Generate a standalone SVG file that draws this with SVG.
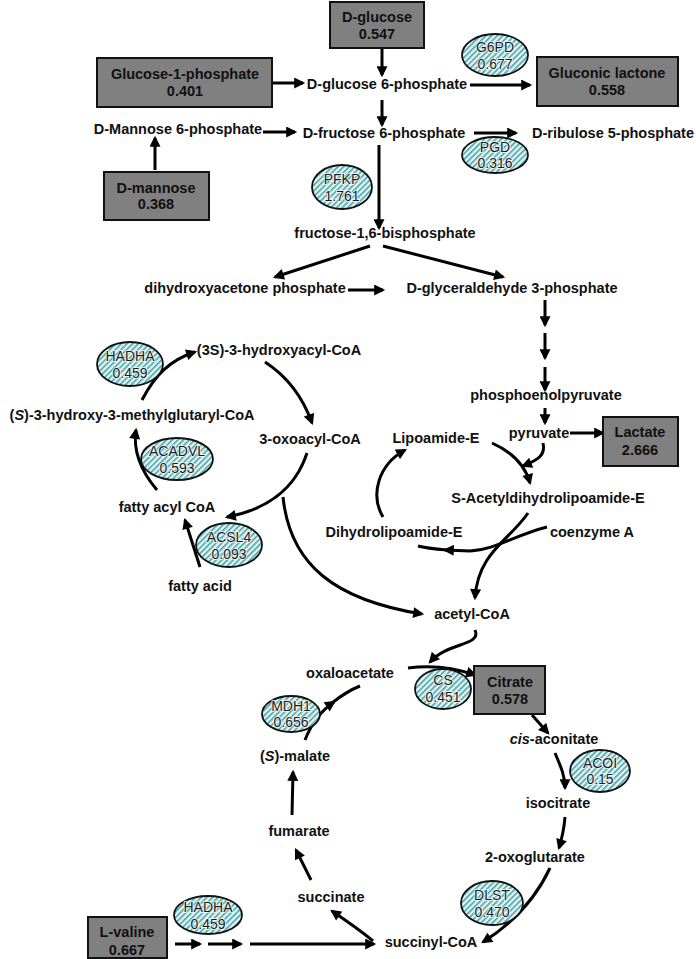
<svg xmlns="http://www.w3.org/2000/svg" width="696" height="959" viewBox="0 0 696 959">
<style>
text{font-family:"Liberation Sans",Arial,sans-serif;font-size:14.5px;font-weight:bold;fill:#111;text-anchor:middle;dominant-baseline:central}
.box{fill:#808080;stroke:#111;stroke-width:2}
.enz{fill:url(#h);stroke:#111;stroke-width:1.8}
text.e{font-weight:normal;font-size:14px;fill:#1a1a1a;stroke:#eefafa;stroke-width:1.6;paint-order:stroke}
.c{fill:none;stroke:#000;stroke-width:3}
.m{marker-end:url(#a)}
</style>
<defs>
<pattern id="h" patternUnits="userSpaceOnUse" width="4" height="4" patternTransform="rotate(45)">
<rect width="4" height="4" fill="#e4f5f5"/>
<rect width="1.6" height="4" fill="#4aa2a8"/>
</pattern>
<marker id="a" viewBox="0 0 10 10" refX="8" refY="5" markerWidth="12" markerHeight="11" markerUnits="userSpaceOnUse" orient="auto">
<path d="M0,0 L10,5 L0,10 z" fill="#000"/>
</marker>
</defs>

<g id="connectors">
<path class="c m" d="M382,48 L382,75"/>
<path class="c m" d="M272,83 L303,83"/>
<path class="c m" d="M470,85 L530,85"/>
<path class="c m" d="M382,100 L382,125"/>
<path class="c m" d="M263,132 L295,132"/>
<path class="c m" d="M155,170 L155,138"/>
<path class="c m" d="M474,133 L516,133"/>
<path class="c m" d="M379,145 L379,228"/>
<path class="c m" d="M370,246 L275,277"/>
<path class="c m" d="M383,246 L503,277"/>
<path class="c m" d="M348,290 L383,290"/>
<path class="c m" d="M545,300 L545,325"/>
<path class="c m" d="M545,333 L545,358"/>
<path class="c m" d="M545,367 L545,390"/>
<path class="c m" d="M545,408 L545,423"/>
<path class="c m" d="M570,433 L603,433"/>
<path class="c m" d="M492,443 C512,452 525,465 530,483"/>
<path class="c m" d="M543,443 C546,455 538,460 523,466"/>
<path class="c m" d="M528,513 C510,540 478,552 475,598"/>
<path class="c m" d="M547,527 C515,535 495,550 470,551 L445,550"/>
<path class="c" d="M447,550 C435,549 425,548 418,546"/>
<path class="c m" d="M383,517 C370,495 378,465 405,450"/>
<path class="c m" d="M283,497 C290,565 335,600 422,614"/>
<path class="c m" d="M475,630 C482,646 448,642 430,662"/>
<path class="c m" d="M408,668 C430,665 455,668 475,675"/>
<path class="c m" d="M532,715 L548,733"/>
<path class="c m" d="M555,753 C560,765 565,775 565,788"/>
<path class="c m" d="M565,817 C564,830 562,838 559,848"/>
<path class="c m" d="M550,868 C535,900 510,925 483,942"/>
<path class="c m" d="M373,941 C360,930 345,920 332,911"/>
<path class="c m" d="M311,880 L296,850"/>
<path class="c m" d="M292,815 L293,772"/>
<path class="c m" d="M305,740 C312,722 322,710 334,702"/>
<path class="c" d="M332,703 C342,695 350,690 360,686"/>
<path class="c m" d="M175,944 L200,944"/>
<path class="c m" d="M208,944 L241,944"/>
<path class="c m" d="M250,944 L374,944"/>
<path class="c m" d="M142,400 C155,375 170,360 195,352"/>
<path class="c m" d="M265,362 C285,375 302,395 312,423"/>
<path class="c m" d="M307,453 C295,490 265,510 227,517"/>
<path class="c m" d="M157,490 C140,470 133,450 136,430"/>
<path class="c m" d="M200,567 L185,520"/>
</g>

<g id="n-dglucose"><rect class="box" x="330" y="2" width="94" height="46"/><text x="377" y="17">D-glucose</text><text x="377" y="34">0.547</text></g>
<g id="n-g1p"><rect class="box" x="97" y="58" width="175" height="49"/><text x="185" y="74">Glucose-1-phosphate</text><text x="185" y="91">0.401</text></g>
<g id="n-gluconic"><rect class="box" x="537" y="57" width="141" height="49"/><text x="607" y="73">Gluconic lactone</text><text x="607" y="90">0.558</text></g>
<g id="n-dmannose"><rect class="box" x="104" y="172" width="105" height="48"/><text x="156" y="188">D-mannose</text><text x="156" y="204">0.368</text></g>
<g id="n-lactate"><rect class="box" x="603" y="417" width="75" height="49"/><text x="640" y="432">Lactate</text><text x="640" y="450">2.666</text></g>
<g id="n-citrate"><rect class="box" x="474" y="666" width="71" height="48"/><text x="510" y="682">Citrate</text><text x="510" y="699">0.578</text></g>
<g id="n-lvaline"><rect class="box" x="88" y="917" width="79" height="41"/><text x="127" y="932">L-valine</text><text x="127" y="950">0.667</text></g>

<g id="n-g6p"><text x="387" y="84">D-glucose 6-phosphate</text></g>
<g id="n-f6p"><text x="384" y="133">D-fructose 6-phosphate</text></g>
<g id="n-m6p"><text x="178" y="129">D-Mannose 6-phosphate</text></g>
<g id="n-ribulose"><text x="613" y="133">D-ribulose 5-phosphate</text></g>
<g id="n-f16bp"><text x="385" y="233">fructose-1,6-bisphosphate</text></g>
<g id="n-dhap"><text x="245" y="288">dihydroxyacetone phosphate</text></g>
<g id="n-gap"><text x="512" y="288">D-glyceraldehyde 3-phosphate</text></g>
<g id="n-pep"><text x="546" y="395">phosphoenolpyruvate</text></g>
<g id="n-pyruvate"><text x="539" y="433">pyruvate</text></g>
<g id="n-lipoamide"><text x="436" y="438">Lipoamide-E</text></g>
<g id="n-sacetyl"><text x="548" y="498">S-Acetyldihydrolipoamide-E</text></g>
<g id="n-dihydro"><text x="394" y="532">Dihydrolipoamide-E</text></g>
<g id="n-coa"><text x="592" y="532">coenzyme A</text></g>
<g id="n-acetylcoa"><text x="472" y="614">acetyl-CoA</text></g>
<g id="n-3s"><text x="279" y="350">(3S)-3-hydroxyacyl-CoA</text></g>
<g id="n-hmg"><text x="132" y="415">(<tspan font-style="italic">S</tspan>)-3-hydroxy-3-methylglutaryl-CoA</text></g>
<g id="n-oxoacyl"><text x="310" y="439">3-oxoacyl-CoA</text></g>
<g id="n-fattyacyl"><text x="167" y="507">fatty acyl CoA</text></g>
<g id="n-fattyacid"><text x="200" y="586">fatty acid</text></g>
<g id="n-oxaloacetate"><text x="350" y="673">oxaloacetate</text></g>
<g id="n-cisaconitate"><text x="554" y="739"><tspan font-style="italic">cis</tspan>-aconitate</text></g>
<g id="n-isocitrate"><text x="558" y="803">isocitrate</text></g>
<g id="n-oxoglutarate"><text x="535" y="857">2-oxoglutarate</text></g>
<g id="n-succinylcoa"><text x="431" y="942">succinyl-CoA</text></g>
<g id="n-succinate"><text x="331" y="897">succinate</text></g>
<g id="n-fumarate"><text x="299" y="831">fumarate</text></g>
<g id="n-malate"><text x="295" y="756">(<tspan font-style="italic">S</tspan>)-malate</text></g>

<g id="e-g6pd"><ellipse class="enz" cx="495" cy="55" rx="33" ry="21"/><text class="e" x="495" y="47">G6PD</text><text class="e" x="495" y="64">0.677</text></g>
<g id="e-pgd"><ellipse class="enz" cx="495" cy="155" rx="33" ry="18"/><text class="e" x="495" y="147">PGD</text><text class="e" x="495" y="163">0.316</text></g>
<g id="e-pfkp"><ellipse class="enz" cx="342" cy="187" rx="30" ry="22"/><text class="e" x="342" y="179">PFKP</text><text class="e" x="342" y="196">1.761</text></g>
<g id="e-hadha1"><ellipse class="enz" cx="130" cy="364" rx="33" ry="22"/><text class="e" x="130" y="356">HADHA</text><text class="e" x="130" y="373">0.459</text></g>
<g id="e-acadvl"><ellipse class="enz" cx="177" cy="459" rx="36" ry="21"/><text class="e" x="177" y="451">ACADVL</text><text class="e" x="177" y="468">0.593</text></g>
<g id="e-acsl4"><ellipse class="enz" cx="229" cy="545" rx="33" ry="22"/><text class="e" x="229" y="537">ACSL4</text><text class="e" x="229" y="554">0.093</text></g>
<g id="e-cs"><ellipse class="enz" cx="443" cy="689" rx="28" ry="20"/><text class="e" x="443" y="680">CS</text><text class="e" x="443" y="697">0.451</text></g>
<g id="e-mdh1"><ellipse class="enz" cx="291" cy="714" rx="29" ry="18"/><text class="e" x="291" y="706">MDH1</text><text class="e" x="291" y="722">0.656</text></g>
<g id="e-acoi"><ellipse class="enz" cx="600" cy="771" rx="30" ry="21"/><text class="e" x="600" y="763">ACOI</text><text class="e" x="600" y="779">0.15</text></g>
<g id="e-dlst"><ellipse class="enz" cx="492" cy="903" rx="31" ry="22"/><text class="e" x="492" y="895">DLST</text><text class="e" x="492" y="912">0.470</text></g>
<g id="e-hadha2"><ellipse class="enz" cx="208" cy="915" rx="34" ry="19"/><text class="e" x="208" y="907">HADHA</text><text class="e" x="208" y="924">0.459</text></g>
</svg>
